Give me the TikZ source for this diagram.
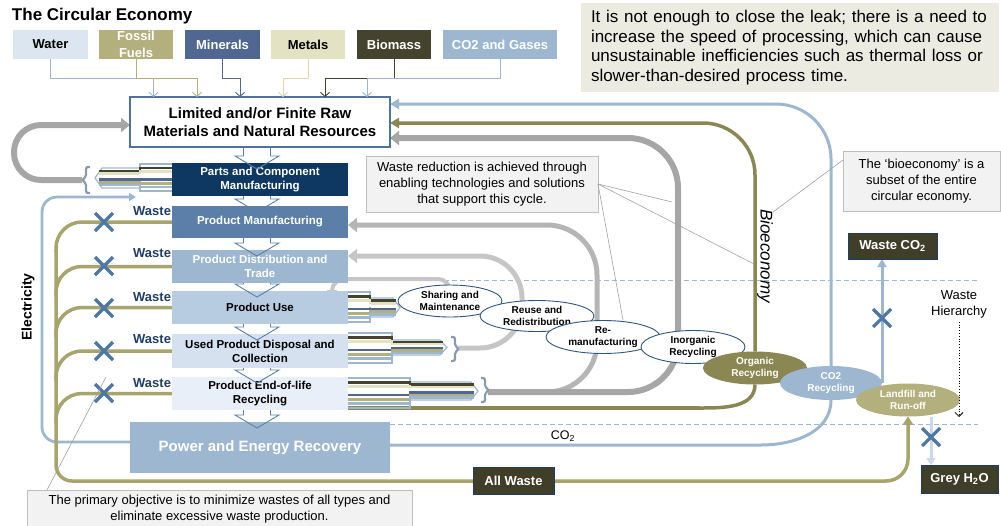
\documentclass[tikz,border=0pt]{standalone}
\usepackage{fontspec}
\setmainfont{Liberation Sans}
\usetikzlibrary{arrows.meta,calc,shapes.geometric,shapes.misc,backgrounds}

\definecolor{cWater}{HTML}{DCE6F1}
\definecolor{cFossil}{HTML}{B3B07D}
\definecolor{cMineral}{HTML}{506891}
\definecolor{cMetal}{HTML}{E3E2C3}
\definecolor{cMetalLine}{HTML}{D9D8B0}
\definecolor{cBiomass}{HTML}{44442E}
\definecolor{cGas}{HTML}{9DB7D1}
\definecolor{cNavy}{HTML}{0E3862}
\definecolor{cPM}{HTML}{5B7FA8}
\definecolor{cPU}{HTML}{B8CCE1}
\definecolor{cUsed}{HTML}{D5E1EE}
\definecolor{cEOL}{HTML}{E8EFF8}
\definecolor{cFrame}{HTML}{4F73A0}
\definecolor{cOliveL}{HTML}{A7A46C}
\definecolor{cOliveD}{HTML}{8A8753}
\definecolor{cGreyD}{HTML}{A6A6A6}
\definecolor{cGreyM}{HTML}{B5B5B5}
\definecolor{cGreyL}{HTML}{C6C6C6}
\definecolor{cCross}{HTML}{4E77A3}
\definecolor{cWasteTxt}{HTML}{1F3D66}
\definecolor{cNote}{HTML}{F2F2F2}
\definecolor{cNoteEdge}{HTML}{BFBFBF}
\definecolor{cNoteTop}{HTML}{ECEBE1}
\definecolor{cEllEdge}{HTML}{2F5583}
\definecolor{cDark}{HTML}{3E3E29}
\definecolor{cBracket}{HTML}{8A99AE}
\definecolor{cLeader}{HTML}{A0A0A0}
\definecolor{cH2O}{HTML}{C9D8EA}

\newcommand\fsz[2]{\fontsize{#1pt}{#2pt}\selectfont}

% bundle of material strands: #1 x at the box edge, #2 x where it narrows,
% #3 x of the tips, #4/#5 centre and half height of the wide part,
% #6/#7 centre and half height of the narrow part
\newcommand\strands[7]{%
  \pgfmathsetmacro\sdir{(#3>#2)?1:-1}%
  \draw[cGas, line width=1.2] (#1,{#4-#5}) -- (#2,{#4-#5}) -- (#2,{#4+#5}) -- (#1,{#4+#5});
  \draw[cGas, line width=1.2] (#2,{#6-#7}) -- ({#3-7*\sdir},{#6-#7}) -- (#3,#6)
       -- ({#3-7*\sdir},{#6+#7}) -- (#2,{#6+#7});
  \foreach \c [count=\i] in {cBiomass,cMetal,white,cMineral,cFossil,cGas}{%
    \pgfmathsetmacro\ya{#4-#5+\i*2*#5/7}%
    \pgfmathsetmacro\yb{#6-#7+\i*2*#7/7}%
    \draw[\c, line width=2.5] (#1,\ya) -- (#2,\ya) -- (#2,\yb) -- ({#3-4*\sdir},\yb);
  }%
}
% catch bracket at the end of a bundle: #1 x, #2 top y, #3 bottom y, #4 direction
\newcommand\catcher[4]{%
  \draw[cBracket, line width=2.2, rounded corners=2] (#1,#2) -- ({#1+4*#4},#2)
    -- ({#1+4*#4},{(#2+#3)/2-3}) -- ({#1+8*#4},{(#2+#3)/2}) -- ({#1+4*#4},{(#2+#3)/2+3})
    -- ({#1+4*#4},#3) -- (#1,#3);}
% hollow block arrow from one stage box down into the next
\newcommand\stepdown[3][]{%
  \path[#1] let \p1=(#2.south), \p2=(#3.north) in
    (\x2-16.5pt,\y1) -- (\x2-16.5pt,\y2+7pt) -- (\x2-25pt,\y2+7pt) -- (\x2-3pt,\y2-6pt)
    -- (\x2+19pt,\y2+7pt) -- (\x2+10.5pt,\y2+7pt) -- (\x2+10.5pt,\y1);}

\begin{document}
\begin{tikzpicture}[x=1pt,y=-1pt,
  every node/.style={inner sep=0pt, outer sep=0pt},
  resbox/.style={rectangle, minimum height=29pt, font=\bfseries\fsz{13}{17}, align=center},
  feed/.style={line width=0.9pt, -{Straight Barb[length=4pt,width=9pt]}},
  stagebox/.style={rectangle, minimum width=176pt, font=\bfseries\fsz{11.5}{14}, align=center},
  note/.style={rectangle, fill=cNote, draw=cNoteEdge, line width=0.8pt, align=center, font=\fsz{13}{16}},
  darkbox/.style={rectangle, fill=cDark, draw=cWasteTxt, line width=0.9pt, text=white, font=\bfseries\fsz{13}{15}},
  bubble/.style={ellipse, draw=cEllEdge, line width=0.9pt, fill=white},
  solidbubble/.style={ellipse, draw=none},
  bubbletext/.style={font=\bfseries\fsz{10}{12}, align=center},
  wastelabel/.style={anchor=east, text=cWasteTxt, font=\bfseries\fsz{13}{15}},
  blocked/.style={cross out, draw=cCross, line width=3.2pt, minimum size=18pt},
  wasteline/.style={cOliveL, line width=3.5pt},
  greytip/.style={-{Triangle[length=9pt,width=14pt]}},
  coltip/.style={-{Triangle[length=9pt,width=10pt]}},
  leader/.style={cLeader, line width=0.6pt},
  divider/.style={cGas, line width=0.8pt, dash pattern=on 5pt off 3pt},
  stepline/.style={draw=cPM, line width=0.9pt},
]
\useasboundingbox (0,0) rectangle (1001,525);

% ---------- notes ----------
\node[fill=cNoteTop, minimum width=418pt, minimum height=89pt, text width=398pt, align=left,
      font=\fsz{17}{19.5}] (speednote) at (790,47.5)
  {It is not enough to close the leak; there is a need to\\increase the speed of processing, which can cause\\unsustainable inefficiencies such as thermal loss or\\slower-than-desired process time.};
\node[note, minimum width=232pt, minimum height=56pt] (wrnote) at (482,184)
  {Waste reduction is achieved through\\enabling technologies and solutions\\that support this cycle.};
\node[note, minimum width=157pt, minimum height=60pt] (bionote) at (921.5,181)
  {The `bioeconomy' is a\\subset of the entire\\circular economy.};
\node[note, minimum width=385pt, minimum height=38pt, anchor=north] (goalnote) at (219.5,490)
  {The primary objective is to minimize wastes of all types and\\eliminate excessive waste production.};

% ---------- raw material sources ----------
\node[anchor=west, font=\bfseries\fsz{17}{20}] (title) at (12,16) {The Circular Economy};
\node[resbox, fill=cWater, minimum width=75pt] (water) at (50.5,44.5) {Water};
\node[resbox, fill=cFossil, text=white, minimum width=74pt] (fossil) at (136,44.5) {Fossil\\Fuels};
\node[resbox, fill=cMineral, text=white, minimum width=75pt] (minerals) at (222.5,44.5) {Minerals};
\node[resbox, fill=cMetal, minimum width=74pt] (metals) at (308,44.5) {Metals};
\node[resbox, fill=cBiomass, text=white, minimum width=74pt] (biomass) at (394,44.5) {Biomass};
\node[resbox, fill=cGas, text=white, minimum width=114pt] (gases) at (500,44.5) {CO2 and Gases};

\node[rectangle, draw=cFrame, line width=1.2pt, fill=white, minimum width=260pt, minimum height=50pt,
      align=center, font=\bfseries\fsz{15}{18.5}] (raw) at (260,122)
  {Limited and/or Finite Raw\\Materials and Natural Resources};

\draw[feed, cGas] (water.south) -- ++(0,19) -| ($(raw.north west)+(23.5,0)$);
\draw[feed, cFossil] (fossil.south) -- ++(0,19) -| ($(raw.north west)+(67,0)$);
\draw[feed, cMineral] (minerals.south) -- ++(0,19) -| ($(raw.north west)+(110,0)$);
\draw[feed, cMetalLine] (metals.south) -- ++(0,19) -| ($(raw.north west)+(153,0)$);
\draw[feed, cBiomass] (biomass.south) -- ++(0,19) -| ($(raw.north west)+(195,0)$);
\draw[feed, cGas] (gases.south) -- ++(0,19) -| ($(raw.north west)+(237,0)$);

% ---------- life-cycle stages ----------
\node[stagebox, fill=cNavy, text=white, minimum height=33pt] (parts) at (260,179.5) {Parts and Component\\Manufacturing};
\node[stagebox, fill=cPM, text=white, minimum height=32pt] (pmf) at (260,222) {Product Manufacturing};
\node[stagebox, fill=cGas, text=white, minimum height=33pt] (pdt) at (260,266.5) {Product Distribution and\\Trade};
\node[stagebox, fill=cPU, minimum height=33pt] (puse) at (260,307.5) {Product Use};
\node[stagebox, fill=cUsed, minimum height=34pt] (used) at (260,351) {Used Product Disposal and\\Collection};
\node[stagebox, fill=cEOL, minimum height=33pt] (eol) at (260,393.5) {Product End-of-life\\Recycling};
\node[rectangle, fill=cGas, text=white, minimum width=260pt, minimum height=51pt,
      font=\bfseries\fsz{15}{18}] (power) at (260,447.5) {Power and Energy Recovery};

\foreach \a/\b in {raw/parts,parts/pmf,pmf/pdt,pdt/puse,puse/used,used/eol,eol/power}
  {\stepdown[stepline]{\a}{\b}}

% ---------- end-of-stage outputs ----------
\draw[cOliveD, line width=3.5pt] ($(eol.east)+(0,14.5)$) -- (700,408);
\strands{172}{140}{95}{177.5}{13.5}{178}{10}
\catcher{90}{167}{193}{-1}
\strands{348}{370}{400}{307}{15}{307.5}{9.5}
\strands{348}{392}{447}{348}{15}{347.5}{7.5}
\catcher{451}{337}{361}{1}
\strands{348}{410}{478}{393}{15}{391}{9}
\catcher{481}{378}{402}{1}

% ---------- recovery loops ----------
\node[bubble, minimum width=104pt, minimum height=32pt,
      label={[bubbletext]center:Sharing and\\Maintenance}] (sharing) at (450,301) {};
\node[bubble, minimum width=114pt, minimum height=31pt,
      label={[bubbletext]center:Reuse and\\Redistribution}] (reuse) at (537,316) {};
\node[bubble, minimum width=114pt, minimum height=33pt,
      label={[bubbletext]center:Re-\\manufacturing}] (reman) at (603,337) {};
\node[bubble, minimum width=104pt, minimum height=33pt,
      label={[bubbletext]center:Inorganic\\Recycling}] (inorg) at (693,347) {};
\node[solidbubble, fill=cOliveD, minimum width=104pt, minimum height=33pt,
      label={[bubbletext, text=white]center:Organic\\Recycling}] (organic) at (755,368) {};
\node[solidbubble, fill=cGas, minimum width=102pt, minimum height=34pt,
      label={[bubbletext, text=white]center:CO2\\Recycling}] (co2rec) at (831,383) {};
\node[solidbubble, fill=cFossil, minimum width=104pt, minimum height=33pt,
      label={[bubbletext, text=white]center:Landfill and\\Run-off}] (landfill) at (908,400) {};

\node[darkbox, minimum width=89pt, minimum height=26pt] (wasteco) at (892.5,246) {Waste CO\textsubscript{2}};
\node[darkbox, minimum width=81pt, minimum height=27pt] (allwaste) at (513.5,481) {All Waste};
\node[darkbox, minimum width=77pt, minimum height=28pt] (greyh2o) at (959.5,479) {Grey H\textsubscript{2}O};

% ---------- labels ----------
\node[wastelabel] (w1) at (171,211) {Waste};
\node[wastelabel] (w2) at (171,253) {Waste};
\node[wastelabel] (w3) at (171,297) {Waste};
\node[wastelabel] (w4) at (171,339) {Waste};
\node[wastelabel] (w5) at (171,383) {Waste};
\node[rotate=90, font=\bfseries\fsz{14}{16}] (elec) at (28,307) {Electricity};
\node[rotate=-90, font=\itshape\fsz{17}{20}] (bio) at (765,256) {Bioeconomy};
\node[font=\fsz{12.5}{15}] (co2lbl) at (563,436) {CO\textsubscript{2}};
\node[align=center, font=\fsz{13}{16}] (hier) at (959,304) {Waste\\Hierarchy};
\coordinate (hierend) at (959,417);
\draw[dotted, line width=0.8pt, -{Straight Barb[length=4pt,width=8pt]}] ($(hier.south)+(0,4)$) -- (hierend);

% ---------- blocked leaks ----------
\foreach \y [count=\k] in {222,266,308,351,393}{\node[blocked] (leak\k) at (104,\y) {};}
\coordinate (h2otop) at ($(greyh2o.north west)+(10,0)$);

% ---------- leader lines ----------
\coordinate (lead1) at (672,202);
\coordinate (lead2) at (623,320);
\coordinate (lead3) at (754,264);
\coordinate (lead4) at (773,212);
\coordinate (lead5) at (106,377);
\draw[leader] (wrnote.east) -- (lead1);
\draw[leader] (wrnote.east) -- (lead2);
\draw[leader] (wrnote.east) -- (lead3);
\draw[leader] ($(bionote.north west)+(0,9)$) -- (lead4);
\draw[leader] ($(goalnote.north west)+(20,0)$) -- (lead5);

% ---------- flows behind the boxes ----------
\begin{scope}[on background layer]
  \draw[divider] (348,280) -- (978,280);
  \draw[divider] (390,424) -- (978,424);

  % electricity fed back from power recovery
  \coordinate (elecin) at (136,197);
  \draw[cGas, line width=2.8pt, rounded corners=15pt, -{Triangle[length=7pt,width=8pt]}]
    ($(power.west)+(0,-5.5)$) -| (42,300) |- (elecin);

  % waste leaving each stage
  \foreach \s in {pmf,pdt,puse,used,eol}
    {\draw[wasteline, rounded corners=26pt] (\s.west) -| ++(-116,30);}
  \draw[wasteline, rounded corners=16pt] ($(pmf.west)+(-116,28)$) |- (allwaste.west);
  \draw[wasteline, rounded corners=22pt, -{Triangle[length=8pt,width=10pt]}] (allwaste.east) -| (landfill.south);

  % grey reuse loops
  \coordinate (partsbr) at (82,180);
  \coordinate (usedbr) at (458,348);
  \coordinate (eolbr) at (488,392);
  \draw[cGreyD, line width=6pt, rounded corners=27pt, greytip] (partsbr) -- (14,180) -- (14,125) -- ($(raw.west)+(0,3)$);
  \draw[cGreyL, line width=4pt, rounded corners=12pt, -{Triangle[length=6pt,width=10pt]}]
    (sharing.center) |- ($(puse.north east)+(-16,-12)$) -- ($(puse.north east)+(-16,5)$);
  \draw[cGreyL, line width=5pt, rounded corners=42pt, greytip] (usedbr) -- (522,348) -- (522,256) -- ($(pdt.east)+(0,-10.5)$);
  \draw[cGreyM, line width=5pt, rounded corners=50pt, greytip] (eolbr) -- (597,392) -- (597,225) -- ($(pmf.east)+(0,3)$);
  \draw[cGreyD, line width=6pt, rounded corners=50pt, greytip] (eolbr) -- (678,392) -- (678,138) -- ($(raw.east)+(0,16)$);

  % bio and carbon cycles back to the resources
  \draw[cGas, line width=3pt, rounded corners=55pt, coltip] (co2rec.north) |- ($(raw.east)+(0,-18)$);
  \draw[cOliveD, line width=3.5pt, rounded corners=52pt, coltip] (organic.north) |- ($(raw.east)+(0,1)$);
  \draw[cOliveD, line width=3.5pt] (700,408) to[out=0,in=-90] (organic.south);
  \draw[cGas, line width=3pt] ($(power.east)+(0,-2.5)$) -- ($(co2rec.south)+(-70,45)$) to[out=0,in=-90] (co2rec.south);
  \draw[cGas, line width=3pt, -{Triangle[length=8pt,width=9pt]}] (co2rec.east) -- (co2rec.east |- wasteco.south);
  \draw[cH2O, line width=3pt, -{Triangle[length=7pt,width=9pt]}] (h2otop |- landfill.south) -- (h2otop);
\end{scope}

\node[blocked] (leakco) at (882,318) {};
\node[blocked] (leakh2o) at (931,437) {};
\end{tikzpicture}
\end{document}
